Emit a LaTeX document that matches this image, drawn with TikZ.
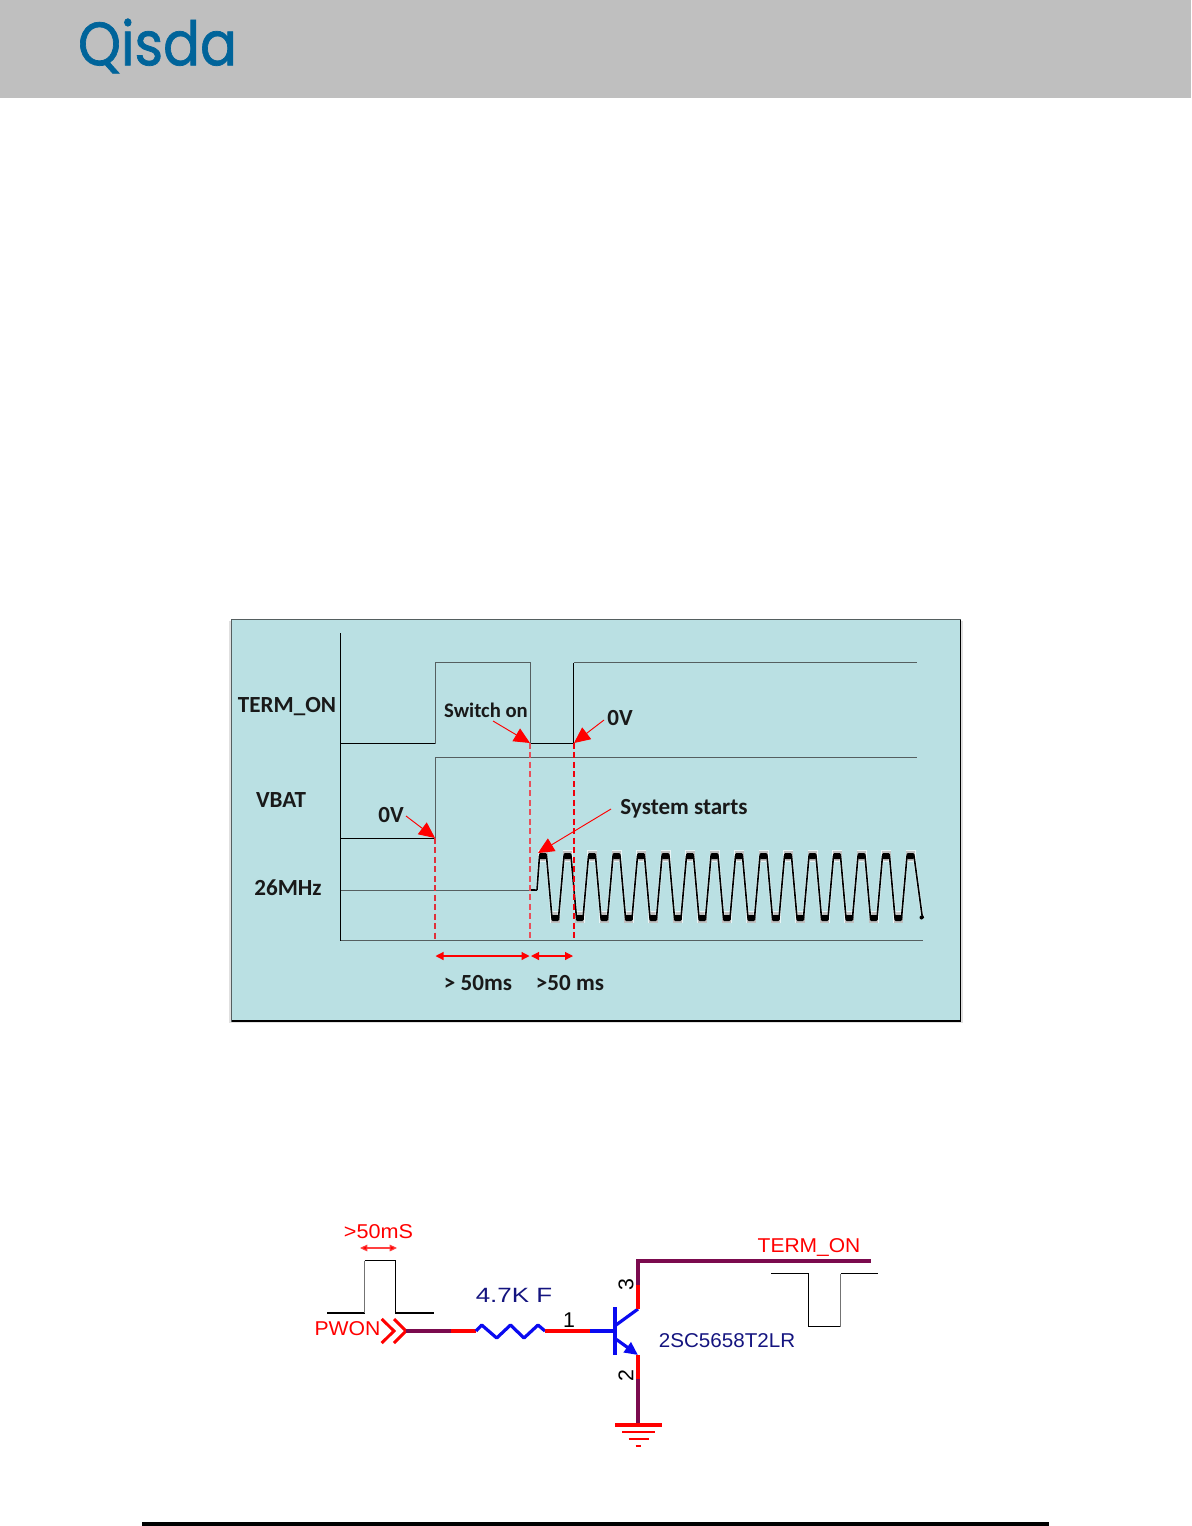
\documentclass[tikz,border=0pt]{standalone}
\usepackage{fontspec}
\usetikzlibrary{arrows.meta}
\setmainfont{Carlito}
\newfontfamily\schemfont{Liberation Sans}
\newfontfamily\logofont[FakeBold=1.2]{Poppins}
\definecolor{hdr}{HTML}{BFBFBF}
\definecolor{logoblue}{HTML}{00649A}
\definecolor{panel}{HTML}{BAE0E3}
\definecolor{wine}{HTML}{7B0A4E}
\definecolor{navy}{HTML}{14147F}
\definecolor{pure}{HTML}{0A0AF0}
\definecolor{sig}{HTML}{555F60}
\definecolor{guidea}{HTML}{E0303A}
\definecolor{guideb}{HTML}{E8505A}
\definecolor{guidec}{HTML}{F0000A}
\tikzset{
  x=0.75pt,y=-0.75pt,
  lbl/.style={inner sep=0pt,font=\fontsize{17.3}{20}\selectfont\bfseries,text=black!90},
  wave/.style={line width=0.9pt,draw=black},
  wavegray/.style={line width=0.9pt,draw=sig},
  reddash/.style={line width=1pt,dash pattern=on 4.5pt off 2.6pt},
  callout/.style={line width=0.7pt,draw=red,-{Triangle[length=12pt,width=11pt,fill=red]}},
  span/.style={line width=0.9pt,draw=red,{Triangle[length=6pt,width=6pt,fill=red]}-{Triangle[length=6pt,width=6pt,fill=red]}},
  sch/.style={inner sep=0pt,font=\schemfont\fontsize{15}{17}\selectfont},
  redw/.style={line width=2.5pt,draw=red},
  winew/.style={line width=2.3pt,draw=wine},
  bluew/.style={line width=2.4pt,draw=pure},
  pulse/.style={line width=0.95pt,draw=black},
}
\begin{document}
\begin{tikzpicture}
\useasboundingbox (0,0) rectangle (1191,1526);
% header
\fill[hdr] (0,0) rectangle (1191,98);
\node[inner sep=0pt,text=logoblue,yscale=1.12,font=\logofont\fontsize{41}{41}\selectfont] (logo) at (157.5,46) {Qisda};
% panel
\fill[black!12] (229,621) rectangle (963,1023);
\filldraw[fill=panel,draw=sig,line width=0.9pt] (231.5,619.5) rectangle (960.5,1021);
\draw[black,line width=0.9pt] (231.5,1021) -- (960.5,1021) -- (960.5,619.5);
% axes
\draw[wave] (340.5,633) -- (340.5,940.5);
\draw[wavegray] (340.5,940.5) -- (923,940.5);
% TERM_ON signal
\draw[wave] (340.5,743.5) -- (435.5,743.5);
\draw[wavegray] (435.5,743.5) -- (435.5,662.5) -- (530.5,662.5) -- (530.5,743.5);
\draw[wave] (530.5,743.5) -- (573.5,743.5) -- (573.5,662.5);
\draw[wavegray] (573.5,662.5) -- (917,662.5);
% VBAT
\draw[wave] (340.5,838.5) -- (435.5,838.5);
\draw[wavegray] (435.5,838.5) -- (435.5,757.5) -- (917,757.5);
% 26 MHz flat
\draw[wavegray] (340.5,890.5) -- (530,890.5);
\draw[wave] (530,890) -- (537,890);
% clock: halo, line, peak and trough bars
\foreach \i in {0,...,15}{
  \pgfmathsetmacro{\px}{543+24.5*\i}
  \pgfmathsetmacro{\vx}{\px+12.25}
  \fill[white!70!panel] (\px-5,850) rectangle (\px+5,862);
  \fill[black!25] (\px-4.5,851) rectangle (\px+4.5,861);
  \ifnum\i<15
    \fill[white!70!panel] (\vx-5,911) rectangle (\vx+5,923);
    \fill[black!25] (\vx-4.5,912) rectangle (\vx+4.5,922.5);
  \fi
}
\draw[line width=2.2pt,draw=white!75!panel,opacity=.7,line join=round]
  (537,890) -- (539.5,856)
  \foreach \i in {0,...,14}{
    -- ++(7,0) -- ++(5.5,62) -- ++(6.5,0) -- ++(5.5,-62)
  } -- ++(7,0) -- ++(8,59) -- ++(1.5,3);
\draw[line width=1.2pt,draw=black,line join=round]
  (537,890) -- (539.5,856)
  \foreach \i in {0,...,14}{
    -- ++(7,0) -- ++(5.5,62) -- ++(6.5,0) -- ++(5.5,-62)
  } -- ++(7,0) -- ++(8,59) -- ++(1.5,3);
\foreach \i in {0,...,15}{
  \pgfmathsetmacro{\px}{543+24.5*\i}
  \pgfmathsetmacro{\vx}{\px+12.25}
  \fill[black,rounded corners=1pt] (\px-4,853) rectangle (\px+4,859);
  \ifnum\i<15
    \fill[black,rounded corners=1pt] (\vx-4,915) rectangle (\vx+4,921);
  \fi
}
\fill[black] (921.5,917.5) circle[radius=2];
% red guides
\coordinate (vbatEdge) at (435,838);
\coordinate (vbatFoot) at (435,940);
\coordinate (offEdge) at (530,743);
\coordinate (offFoot) at (530,940);
\coordinate (riseEdge) at (574,743);
\coordinate (riseFoot) at (574,940);
\draw[reddash,draw=guidea] (vbatEdge) -- (vbatFoot);
\draw[reddash,draw=guideb] (offEdge) -- (offFoot);
\draw[reddash,draw=guidec,line width=1.1pt] (riseEdge) -- (riseFoot);
% labels
\node[lbl] (lterm) at (287,707) {TERM\_ON};
\node[lbl] (lvbat) at (281,800) {VBAT};
\node[lbl] (lclk) at (288,888) {26MHz};
\node[lbl,font=\fontsize{15.5}{18}\selectfont\bfseries] (lswitch) at (486,710) {Switch on};
\node[lbl] (lzeroa) at (620,718) {0V};
\node[lbl] (lzerob) at (391,815) {0V};
\node[lbl] (lsys) at (684,809) {System starts};
\node[lbl] (lfifa) at (478,983) {> 50ms};
\node[lbl] (lfifb) at (570,983) {>50 ms};
% callouts
\coordinate (swTail) at (493,721);
\coordinate (zaTail) at (604,720);
\coordinate (zbTail) at (406,816);
\coordinate (sysTail) at (611,809);
\coordinate (sysTip) at (538,853);
\draw[callout] (swTail) -- (offEdge);
\draw[callout] (zaTail) -- (riseEdge);
\draw[callout] (zbTail) -- (vbatEdge);
\draw[callout] (sysTail) -- (sysTip);
\coordinate (da) at (435.5,956);
\coordinate (db) at (529.5,956);
\coordinate (dc) at (531,956);
\coordinate (dd) at (573,956);
\draw[span] (da) -- (db);
\draw[span] (dc) -- (dd);
% ---------- schematic
\draw[pulse] (327,1313) -- (364.5,1313);
\draw[pulse,draw=black!55] (364.5,1313) -- (364.5,1260.5);
\draw[pulse] (364.5,1260.5) -- (395.5,1260.5) -- (395.5,1313) -- (434,1313);
\coordinate (pa) at (360,1248);
\coordinate (pb) at (397,1248);
\draw[line width=0.8pt,draw=red!75,{Triangle[length=5.5pt,width=5pt,fill=red]}-{Triangle[length=5.5pt,width=5pt,fill=red]}] (pa) -- (pb);
\node[sch,text=red,xscale=1.08] (t50) at (378.5,1232) {>50mS};
\node[sch,text=red,xscale=1.06] (tpwon) at (347.5,1329) {PWON};
\draw[redw,line width=2.2pt,line join=miter] (381.7,1319) -- (394,1331) -- (381.7,1343);
\draw[redw,line width=2.2pt,line join=miter] (394,1319) -- (406,1331) -- (394,1343);
\coordinate (conn) at (406,1331);
\coordinate (w1) at (451,1331);
\coordinate (r1) at (476,1331);
\coordinate (r2) at (545,1331);
\coordinate (bs) at (590,1331);
\coordinate (bb) at (615,1331);
\draw[winew] (conn) -- (w1);
\draw[redw] (w1) -- (r1);
\draw[bluew,line join=round] (r1) -- (481.7,1325) -- (496.7,1338) -- (510.5,1325) -- (524,1338) -- (538,1325) -- (r2);
\draw[redw] (r2) -- (bs);
\draw[bluew] (bs) -- (bb);
\draw[line width=2.7pt,draw=pure] (615,1307) -- (615,1355);
\coordinate (cc) at (638,1309);
\coordinate (cm) at (638,1285);
\coordinate (cn) at (638,1261);
\coordinate (ce) at (871,1261);
\draw[bluew] (616,1325) -- (cc);
\draw[redw] (cc) -- (cm);
\draw[winew,line join=miter] (cm) -- (cn) -- (ce);
\coordinate (ee) at (638,1355);
\coordinate (em) at (638,1379);
\coordinate (gt) at (638,1425);
\draw[bluew,-{Triangle[length=10pt,width=9pt,fill=pure]}] (616.5,1339.5) -- (ee);
\draw[redw] (ee) -- (em);
\draw[winew] (em) -- (gt);
\draw[line width=2.6pt,draw=red] (615,1425) -- (662,1425);
\draw[line width=2pt,draw=red] (622,1432) -- (655,1432);
\draw[line width=2pt,draw=red] (628.5,1439) -- (648.5,1439);
\draw[line width=2pt,draw=red] (635.5,1446) -- (641,1446);
\node[sch,text=black,rotate=90,font=\schemfont\fontsize{16}{18}\selectfont] (p3) at (626,1285) {3};
\node[sch,text=black,rotate=90,font=\schemfont\fontsize{16}{18}\selectfont] (p2) at (626,1376) {2};
\node[sch,text=black,font=\schemfont\fontsize{16}{18}\selectfont] (p1) at (569,1320) {1};
\node[sch,text=navy,xscale=1.255,font=\schemfont\fontsize{15.5}{18}\selectfont] (tres) at (514,1295) {4.7K F};
\node[sch,text=navy,xscale=1.03] (tpart) at (727,1341) {2SC5658T2LR};
\node[sch,text=red,xscale=1.05] (tterm) at (809,1247) {TERM\_ON};
\draw[pulse] (771,1273.5) -- (808.5,1273.5) -- (808.5,1326.5) -- (840.5,1326.5);
\draw[pulse,draw=black!55] (840.5,1326.5) -- (840.5,1273.5);
\draw[pulse] (840.5,1273.5) -- (878,1273.5);
% footer rule
\fill[black] (142,1522) rectangle (1049,1526);
\end{tikzpicture}
\end{document}
